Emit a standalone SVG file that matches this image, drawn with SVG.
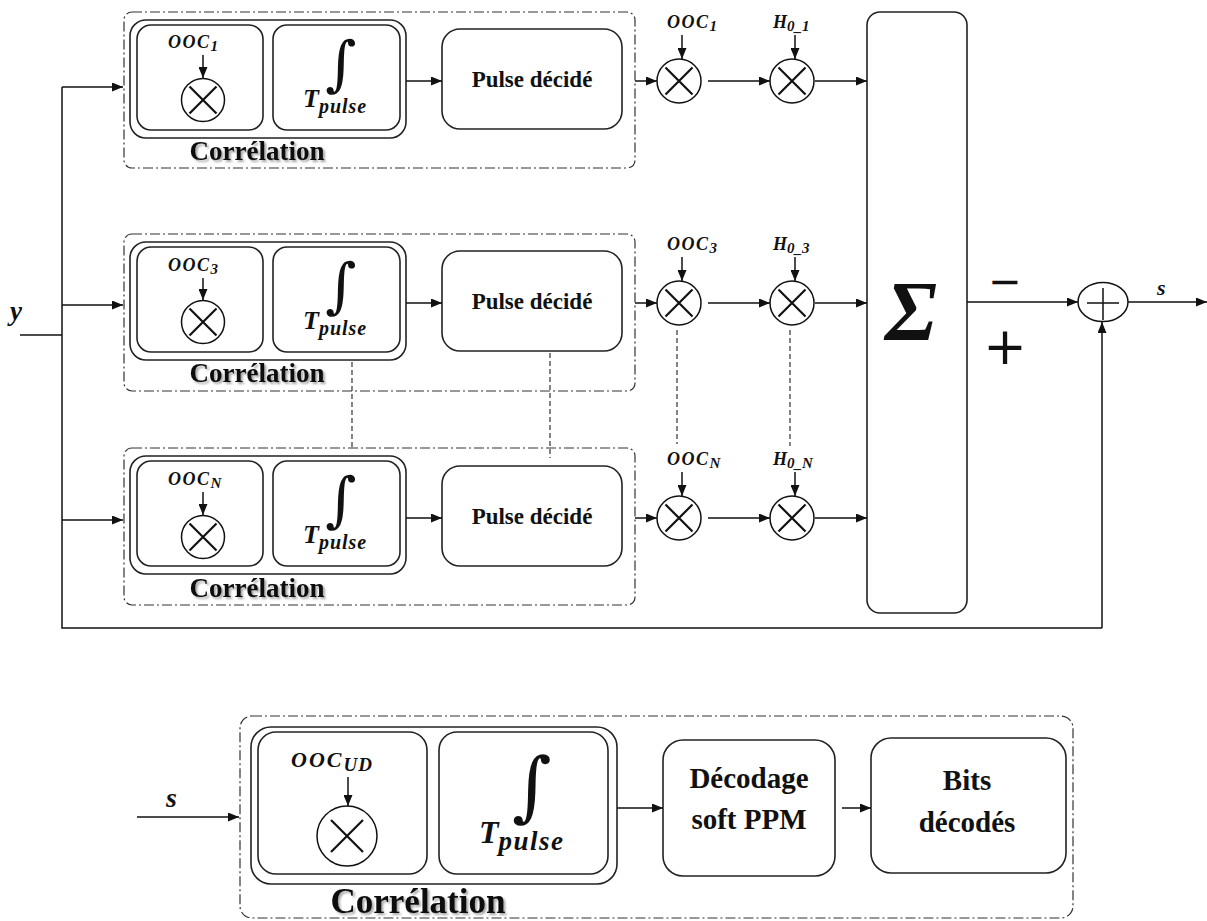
<svg xmlns="http://www.w3.org/2000/svg" width="1207" height="921" viewBox="0 0 1207 921">
<defs>
<marker id="ah" markerWidth="11" markerHeight="9" refX="11" refY="4.5" orient="auto" markerUnits="userSpaceOnUse">
<path d="M0,0 L11,4.5 L0,9 z" fill="#111"/>
</marker>
<filter id="sh" x="-10%" y="-30%" width="130%" height="170%">
<feDropShadow dx="2" dy="2" stdDeviation="1.2" flood-color="#000" flood-opacity="0.35"/>
</filter>
</defs>
<style>
.box{fill:none;stroke:#222;stroke-width:1.6}
.dd{fill:none;stroke:#333;stroke-width:1.2;stroke-dasharray:10 3 2 3}
.ds{fill:none;stroke:#333;stroke-width:1.2;stroke-dasharray:5 3}
.ln{fill:none;stroke:#111;stroke-width:1.5}
.ar{fill:none;stroke:#111;stroke-width:1.5;marker-end:url(#ah)}
.x{fill:none;stroke:#111;stroke-width:2.2}
.lbl{font-family:'Liberation Serif',serif;font-weight:bold;fill:#111}
.m{font-family:'Liberation Serif',serif;font-weight:bold;font-style:italic;fill:#111}
.cor{font-family:'Liberation Serif',serif;font-weight:bold;fill:#111;filter:url(#sh)}
.int{font-family:'DejaVu Serif',serif;fill:#111}
</style>

<!-- Row 1 -->
<g id="corr1">
<rect class="dd" x="124" y="12" width="511" height="156" rx="8"/>
<rect class="box" x="130" y="20" width="276" height="118" rx="16"/>
<rect class="box" x="137" y="25" width="126" height="105" rx="14"/>
<rect class="box" x="273" y="25" width="127" height="105" rx="14"/>
<text class="m" x="168" y="48" font-size="18" letter-spacing="1.5">OOC<tspan font-size="15" dy="3">1</tspan></text>
<line class="ar" x1="203" y1="55" x2="203" y2="78"/>
<circle class="ln" cx="203" cy="100" r="21.5"/>
<path class="x" d="M189.5,86.5 L216.5,113.5 M216.5,86.5 L189.5,113.5"/>
<text class="int" x="325" y="84" font-size="60">∫</text>
<text class="m" x="303" y="107" font-size="26">T<tspan font-size="20" dy="6" letter-spacing="1">pulse</tspan></text>
<text class="cor" x="257" y="160" font-size="27" text-anchor="middle">Corrélation</text>
</g>
<g id="pulse1">
<rect class="box" x="442" y="29" width="180" height="100" rx="18"/>
<text class="lbl" x="532" y="87" font-size="23" text-anchor="middle">Pulse décidé</text>
</g>
<g id="mulOOC1">
<text class="m" x="667" y="28" font-size="18" letter-spacing="1.5">OOC<tspan font-size="15" dy="3">1</tspan></text>
<circle class="ln" cx="679" cy="81" r="22"/>
<path class="x" d="M665.5,67.5 L692.5,94.5 M692.5,67.5 L665.5,94.5"/>
</g>
<g id="mulH1">
<text class="m" x="773" y="28" font-size="18">H<tspan font-size="15" dy="3">0_1</tspan></text>
<circle class="ln" cx="792" cy="81" r="22"/>
<path class="x" d="M778.5,67.5 L805.5,94.5 M805.5,67.5 L778.5,94.5"/>
</g>

<!-- Row 3 -->
<g id="corr3" transform="translate(0,222)">
<rect class="dd" x="124" y="12" width="511" height="157" rx="8"/>
<rect class="box" x="130" y="20" width="276" height="118" rx="16"/>
<rect class="box" x="137" y="25" width="126" height="105" rx="14"/>
<rect class="box" x="273" y="25" width="127" height="105" rx="14"/>
<text class="m" x="168" y="49" font-size="18" letter-spacing="1.5">OOC<tspan font-size="15" dy="3">3</tspan></text>
<line class="ar" x1="203" y1="56" x2="203" y2="78"/>
<circle class="ln" cx="203" cy="100" r="21.5"/>
<path class="x" d="M189.5,86.5 L216.5,113.5 M216.5,86.5 L189.5,113.5"/>
<text class="int" x="325" y="84" font-size="60">∫</text>
<text class="m" x="303" y="107" font-size="26">T<tspan font-size="20" dy="6" letter-spacing="1">pulse</tspan></text>
<text class="cor" x="257" y="160" font-size="27" text-anchor="middle">Corrélation</text>
</g>
<g id="pulse3" transform="translate(0,222)">
<rect class="box" x="442" y="29" width="180" height="100" rx="18"/>
<text class="lbl" x="532" y="87" font-size="23" text-anchor="middle">Pulse décidé</text>
</g>
<g id="mulOOC3" transform="translate(0,222)">
<text class="m" x="667" y="28" font-size="18" letter-spacing="1.5">OOC<tspan font-size="15" dy="3">3</tspan></text>
<circle class="ln" cx="679" cy="81" r="22"/>
<path class="x" d="M665.5,67.5 L692.5,94.5 M692.5,67.5 L665.5,94.5"/>
</g>
<g id="mulH3" transform="translate(0,222)">
<text class="m" x="773" y="28" font-size="18">H<tspan font-size="15" dy="3">0_3</tspan></text>
<circle class="ln" cx="792" cy="81" r="22"/>
<path class="x" d="M778.5,67.5 L805.5,94.5 M805.5,67.5 L778.5,94.5"/>
</g>

<!-- Row N -->
<g id="corrN" transform="translate(0,437)">
<rect class="dd" x="124" y="11" width="511" height="157" rx="8"/>
<rect class="box" x="130" y="19" width="276" height="118" rx="16"/>
<rect class="box" x="137" y="24" width="126" height="105" rx="14"/>
<rect class="box" x="273" y="24" width="127" height="105" rx="14"/>
<text class="m" x="168" y="48" font-size="18" letter-spacing="1.5">OOC<tspan font-size="15" dy="3">N</tspan></text>
<line class="ar" x1="203" y1="55" x2="203" y2="78"/>
<circle class="ln" cx="203" cy="100" r="21.5"/>
<path class="x" d="M189.5,86.5 L216.5,113.5 M216.5,86.5 L189.5,113.5"/>
<text class="int" x="325" y="83" font-size="60">∫</text>
<text class="m" x="303" y="106" font-size="26">T<tspan font-size="20" dy="6" letter-spacing="1">pulse</tspan></text>
<text class="cor" x="257" y="160" font-size="27" text-anchor="middle">Corrélation</text>
</g>
<g id="pulseN" transform="translate(0,437)">
<rect class="box" x="442" y="29" width="180" height="100" rx="18"/>
<text class="lbl" x="532" y="87" font-size="23" text-anchor="middle">Pulse décidé</text>
</g>
<g id="mulOOCN" transform="translate(0,437)">
<text class="m" x="667" y="28" font-size="18" letter-spacing="1.5">OOC<tspan font-size="15" dy="3">N</tspan></text>
<circle class="ln" cx="679" cy="81" r="22"/>
<path class="x" d="M665.5,67.5 L692.5,94.5 M692.5,67.5 L665.5,94.5"/>
</g>
<g id="mulHN" transform="translate(0,437)">
<text class="m" x="773" y="28" font-size="18">H<tspan font-size="15" dy="3">0_N</tspan></text>
<circle class="ln" cx="792" cy="81" r="22"/>
<path class="x" d="M778.5,67.5 L805.5,94.5 M805.5,67.5 L778.5,94.5"/>
</g>

<!-- Sum -->
<g id="sigma">
<rect class="box" x="867" y="12" width="100" height="601" rx="13"/>
<text x="911" y="340" font-family="Liberation Serif, serif" font-style="italic" font-weight="bold" font-size="84" text-anchor="middle" fill="#111">Σ</text>
</g>
<g id="adder">
<ellipse class="ln" cx="1103" cy="302" rx="25" ry="19.5"/>
<path class="ln" d="M1087,303 L1119,303 M1103,288 L1103,320" stroke-width="2.2"/>
</g>
<g id="signs">
<text x="1005" y="295" font-family="DejaVu Sans, sans-serif" font-size="40" text-anchor="middle" fill="#111">−</text>
<text x="1005" y="364" font-family="DejaVu Sans, sans-serif" font-size="52" text-anchor="middle" fill="#111">+</text>
</g>
<g id="labels">
<text class="m" x="10" y="320" font-size="27">y</text>
<text class="m" x="1157" y="295" font-size="22">s</text>
</g>

<!-- Connectors -->
<g id="connectors">
<polyline class="ln" points="20,335 62,335"/>
<polyline class="ln" points="62,87 62,628 1102,628"/>
<line class="ar" x1="1102" y1="628" x2="1102" y2="322"/>
<line class="ar" x1="62" y1="87" x2="123" y2="87"/>
<line class="ar" x1="62" y1="305" x2="123" y2="305"/>
<line class="ar" x1="62" y1="520" x2="123" y2="520"/>

<line class="ar" x1="406" y1="81" x2="442" y2="81"/>
<line class="ar" x1="635" y1="81" x2="657" y2="81"/>
<line class="ar" x1="708" y1="81" x2="770" y2="81"/>
<line class="ar" x1="815" y1="81" x2="867" y2="81"/>
<line class="ar" x1="682" y1="35" x2="682" y2="59"/>
<line class="ar" x1="795" y1="35" x2="795" y2="59"/>

<line class="ar" x1="406" y1="303" x2="442" y2="303"/>
<line class="ar" x1="635" y1="303" x2="657" y2="303"/>
<line class="ar" x1="708" y1="303" x2="770" y2="303"/>
<line class="ar" x1="815" y1="303" x2="867" y2="303"/>
<line class="ar" x1="682" y1="257" x2="682" y2="281"/>
<line class="ar" x1="795" y1="257" x2="795" y2="281"/>

<line class="ar" x1="406" y1="518" x2="442" y2="518"/>
<line class="ar" x1="635" y1="518" x2="657" y2="518"/>
<line class="ar" x1="708" y1="518" x2="770" y2="518"/>
<line class="ar" x1="815" y1="518" x2="867" y2="518"/>
<line class="ar" x1="682" y1="472" x2="682" y2="496"/>
<line class="ar" x1="795" y1="472" x2="795" y2="496"/>

<line class="ar" x1="967" y1="302" x2="1078" y2="302"/>
<line class="ar" x1="1128" y1="302" x2="1207" y2="302"/>

<line class="ds" x1="352" y1="362" x2="352" y2="448"/>
<line class="ds" x1="550" y1="353" x2="550" y2="458"/>
<line class="ds" x1="677" y1="330" x2="677" y2="444"/>
<line class="ds" x1="790" y1="330" x2="790" y2="446"/>

<line class="ar" x1="137" y1="817" x2="239" y2="817"/>
<line class="ar" x1="617" y1="808" x2="663" y2="808"/>
<line class="ar" x1="842" y1="808" x2="871" y2="808"/>
</g>

<!-- Bottom diagram -->
<g id="inputS">
<text class="m" x="166" y="807" font-size="28">s</text>
</g>
<g id="corrUD">
<rect class="dd" x="240" y="716" width="833" height="202" rx="12"/>
<rect class="box" x="251" y="727" width="366" height="157" rx="20"/>
<rect class="box" x="258" y="732" width="169" height="142" rx="18"/>
<rect class="box" x="439" y="732" width="169" height="142" rx="18"/>
<text class="m" x="291" y="767" font-size="22" letter-spacing="2">OOC<tspan font-size="19" dy="4" letter-spacing="1">UD</tspan></text>
<line class="ar" x1="348" y1="777" x2="348" y2="806"/>
<circle class="ln" cx="347" cy="836" r="30"/>
<path class="x" d="M331,820 L363,852 M363,820 L331,852" stroke-width="2.6"/>
<text class="int" x="512" y="812" font-size="76">∫</text>
<text class="m" x="479" y="843" font-size="32">T<tspan font-size="27" dy="7" letter-spacing="1.5">pulse</tspan></text>
<text class="cor" x="418" y="913" font-size="35" text-anchor="middle">Corrélation</text>
</g>
<g id="decodage">
<rect class="box" x="663" y="740" width="172" height="136" rx="20"/>
<text class="lbl" x="749" y="788" font-size="29" text-anchor="middle">Décodage</text>
<text class="lbl" x="749" y="829" font-size="29" text-anchor="middle">soft PPM</text>
</g>
<g id="bits">
<rect class="box" x="871" y="738" width="195" height="135" rx="20"/>
<text class="lbl" x="967" y="790" font-size="29" text-anchor="middle">Bits</text>
<text class="lbl" x="967" y="832" font-size="29" text-anchor="middle">décodés</text>
</g>
</svg>
